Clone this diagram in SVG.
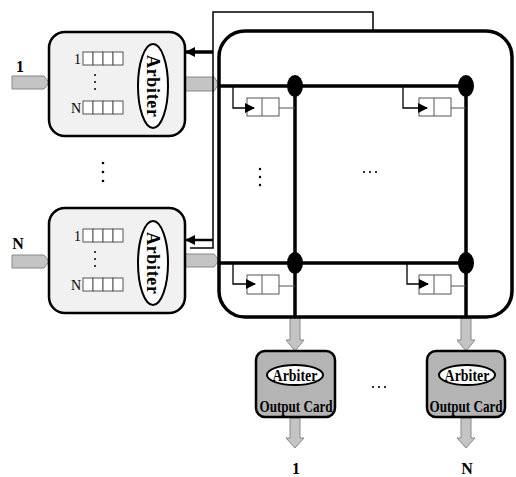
<svg xmlns="http://www.w3.org/2000/svg" width="516" height="477" viewBox="0 0 516 477">
<defs>
<style>
.card{fill:#f1f1f1;stroke:#000;stroke-width:2.5}
.ocard{fill:#b4b4b4;stroke:#000;stroke-width:2.5}
.garrow{fill:#c4c4c4;stroke:#888;stroke-width:1}
.arb{fill:#fff;stroke:#000;stroke-width:2}
.q{fill:#fff;stroke:#555;stroke-width:1}
.bus{stroke:#000;stroke-width:3.5;fill:none}
.thin{stroke:#000;stroke-width:1.3;fill:none}
.ctl{stroke:#000;stroke-width:1.5;fill:none}
.t{font-family:"Liberation Serif",serif;fill:#000}
.b{font-weight:bold}
</style>
<marker id="ah" viewBox="0 0 10 10" refX="9" refY="5" markerWidth="10" markerHeight="10" markerUnits="userSpaceOnUse" orient="auto">
<path d="M0,0 L10,5 L0,10 z" fill="#000"/>
</marker>
</defs>

<g id="connectors">
<path class="garrow" d="M12,76 L44,76 L49,82.5 L44,89 L12,89 z"/>
<path class="garrow" d="M12,255 L44,255 L49,261.5 L44,268 L12,268 z"/>
<path class="garrow" d="M185,77 L214,77 L219,84 L214,91 L185,91 z"/>
<path class="garrow" d="M185,254 L214,254 L219,260.5 L214,267 L185,267 z"/>
<path class="garrow" d="M290,318 L300,318 L300,340 L304,340 L295,351 L286,340 L290,340 z"/>
<path class="garrow" d="M461,318 L471,318 L471,340 L475,340 L466,351 L457,340 L461,340 z"/>
<path class="garrow" d="M290,418 L300,418 L300,438 L304,438 L295,448 L286,438 L290,438 z"/>
<path class="garrow" d="M461,418 L471,418 L471,438 L475,438 L466,448 L457,438 L461,438 z"/>
<path class="ctl" d="M373,35 L373,12 L213,12 L213,248 L190,248"/>
<line x1="213" y1="52" x2="186" y2="52" stroke="#000" stroke-width="3.5" marker-end="url(#ah)"/>
<line x1="213" y1="240" x2="186" y2="240" stroke="#000" stroke-width="2.5" marker-end="url(#ah)"/>
</g>

<g id="input-card-1">
<rect class="card" x="49" y="32" width="136" height="104" rx="16"/>
<text class="t" x="81" y="64" font-size="14" text-anchor="end">1</text>
<g class="q"><rect x="83" y="52" width="10" height="13"/><rect x="93" y="52" width="10" height="13"/><rect x="103" y="52" width="10" height="13"/><rect x="113" y="52" width="10" height="13"/></g>
<g fill="#000"><circle cx="95" cy="75" r="1"/><circle cx="95" cy="82" r="1"/><circle cx="95" cy="89" r="1"/></g>
<text class="t" x="81" y="113" font-size="14" text-anchor="end">N</text>
<g class="q"><rect x="83" y="101" width="10" height="13"/><rect x="93" y="101" width="10" height="13"/><rect x="103" y="101" width="10" height="13"/><rect x="113" y="101" width="10" height="13"/></g>
<ellipse class="arb" cx="153" cy="86" rx="15" ry="42"/>
<text class="t b" transform="translate(147,86) rotate(90)" font-size="18" text-anchor="middle" textLength="62" lengthAdjust="spacing">Arbiter</text>
<text class="t b" x="20" y="72" font-size="16" text-anchor="middle">1</text>
</g>

<g id="input-card-N">
<rect class="card" x="49" y="208" width="136" height="105" rx="16"/>
<text class="t" x="81" y="241" font-size="14" text-anchor="end">1</text>
<g class="q"><rect x="83" y="229" width="10" height="13"/><rect x="93" y="229" width="10" height="13"/><rect x="103" y="229" width="10" height="13"/><rect x="113" y="229" width="10" height="13"/></g>
<g fill="#000"><circle cx="95" cy="252" r="1"/><circle cx="95" cy="259" r="1"/><circle cx="95" cy="266" r="1"/></g>
<text class="t" x="81" y="290" font-size="14" text-anchor="end">N</text>
<g class="q"><rect x="83" y="278" width="10" height="13"/><rect x="93" y="278" width="10" height="13"/><rect x="103" y="278" width="10" height="13"/><rect x="113" y="278" width="10" height="13"/></g>
<ellipse class="arb" cx="153" cy="263" rx="15" ry="42"/>
<text class="t b" transform="translate(147,263) rotate(90)" font-size="18" text-anchor="middle" textLength="62" lengthAdjust="spacing">Arbiter</text>
<text class="t b" x="18" y="249" font-size="16" text-anchor="middle">N</text>
</g>

<g id="input-dots" fill="#000">
<circle cx="103" cy="163" r="1.3"/><circle cx="103" cy="172" r="1.3"/><circle cx="103" cy="181" r="1.3"/>
</g>

<g id="switch-fabric">
<rect x="219" y="31" width="293" height="286" rx="26" fill="#fff" stroke="#000" stroke-width="3.5"/>
<path class="bus" d="M219,86 L466,86 M219,263 L466,263 M295,86 L295,317 M466,86 L466,317"/>
<g fill="#000">
<ellipse cx="295" cy="86" rx="8" ry="11"/><ellipse cx="466" cy="86" rx="8" ry="11"/>
<ellipse cx="295" cy="263" rx="8" ry="11"/><ellipse cx="466" cy="263" rx="8" ry="11"/>
</g>
<g id="xq-1-1">
<rect class="q" x="247" y="98" width="32" height="18"/><line class="q" x1="262" y1="98" x2="262" y2="116"/>
<line x1="279" y1="108" x2="295" y2="108" stroke="#555" stroke-width="1"/>
<path class="thin" d="M233,86 L233,108 L254,108" marker-end="url(#ah)"/>
</g>
<g id="xq-1-N">
<rect class="q" x="419" y="98" width="32" height="18"/><line class="q" x1="434" y1="98" x2="434" y2="116"/>
<line x1="451" y1="108" x2="466" y2="108" stroke="#555" stroke-width="1"/>
<path class="thin" d="M403,86 L403,108 L427,108" marker-end="url(#ah)"/>
</g>
<g id="xq-N-1">
<rect class="q" x="247" y="275" width="32" height="19"/><line class="q" x1="262" y1="275" x2="262" y2="294"/>
<line x1="279" y1="286" x2="295" y2="286" stroke="#555" stroke-width="1"/>
<path class="thin" d="M233,263 L233,284 L255,284" marker-end="url(#ah)"/>
</g>
<g id="xq-N-N">
<rect class="q" x="419" y="275" width="32" height="19"/><line class="q" x1="434" y1="275" x2="434" y2="294"/>
<line x1="451" y1="286" x2="466" y2="286" stroke="#555" stroke-width="1"/>
<path class="thin" d="M407,263 L407,284 L428,284" marker-end="url(#ah)"/>
</g>
<g fill="#000">
<circle cx="260" cy="169" r="1.2"/><circle cx="260" cy="177" r="1.2"/><circle cx="260" cy="185" r="1.2"/>
<circle cx="364" cy="172" r="1.1"/><circle cx="370" cy="172" r="1.1"/><circle cx="376" cy="172" r="1.1"/>
</g>
</g>

<g id="output-card-1">
<rect class="ocard" x="256" y="351" width="79" height="66" rx="9"/>
<ellipse class="arb" cx="295" cy="375" rx="28" ry="10"/>
<text class="t b" transform="translate(295,381) scale(0.82,1)" font-size="17" text-anchor="middle">Arbiter</text>
<text class="t b" transform="translate(296,412) scale(0.77,1)" font-size="17" text-anchor="middle">Output Card</text>
<text class="t b" x="296" y="474" font-size="16" text-anchor="middle">1</text>
</g>

<g id="output-card-N">
<rect class="ocard" x="427" y="351" width="78" height="66" rx="9"/>
<ellipse class="arb" cx="467" cy="375" rx="28" ry="10"/>
<text class="t b" transform="translate(467,381) scale(0.82,1)" font-size="17" text-anchor="middle">Arbiter</text>
<text class="t b" transform="translate(466,412) scale(0.77,1)" font-size="17" text-anchor="middle">Output Card</text>
<text class="t b" x="467" y="474" font-size="16" text-anchor="middle">N</text>
</g>

<g id="output-dots" fill="#000">
<circle cx="373" cy="387" r="1.1"/><circle cx="379" cy="387" r="1.1"/><circle cx="385" cy="387" r="1.1"/>
</g>
</svg>
